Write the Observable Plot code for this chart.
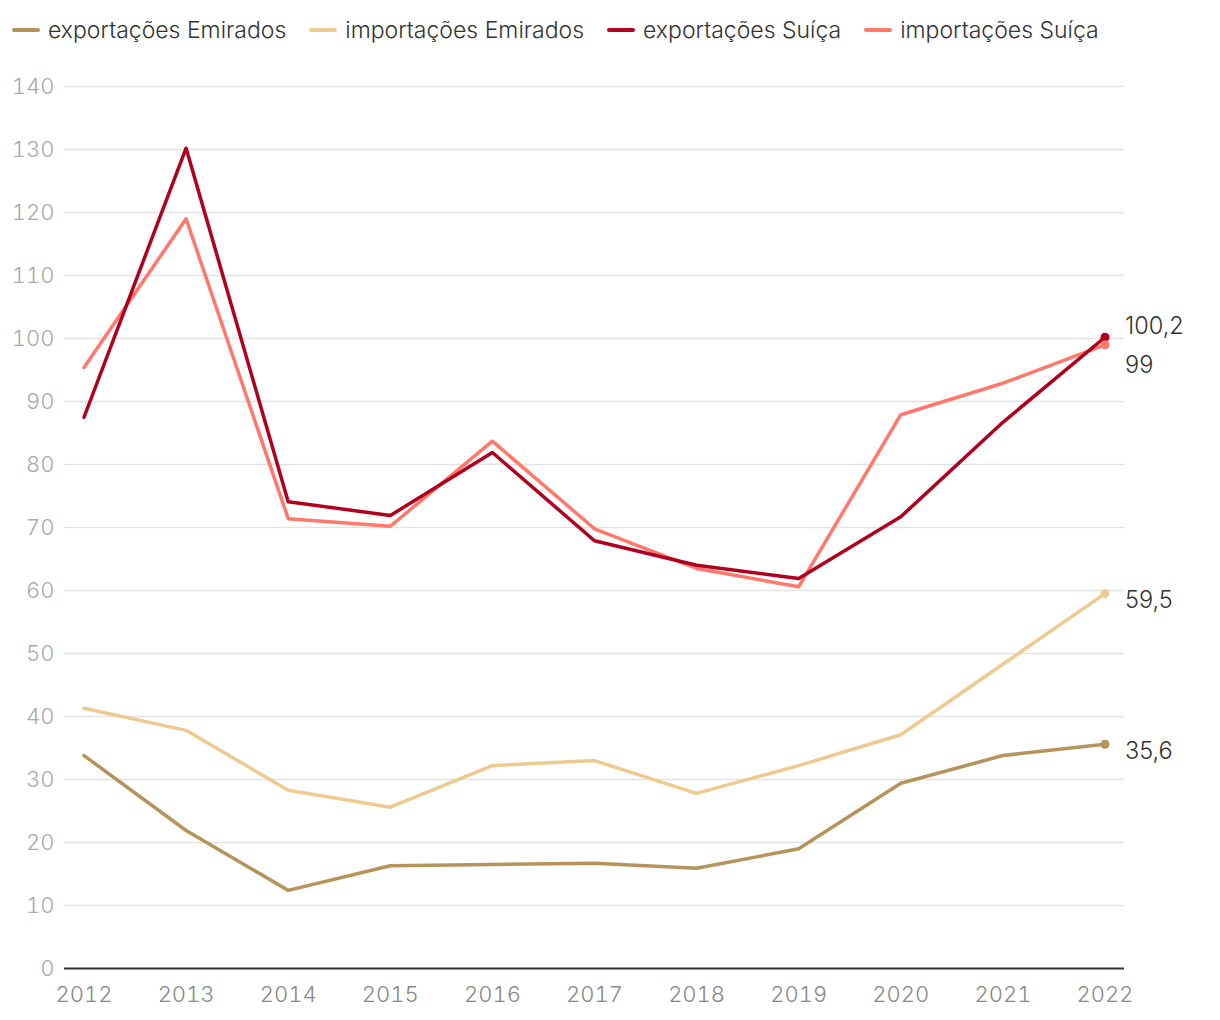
<!DOCTYPE html>
<html>
<head>
<meta charset="utf-8">
<script src="https://cdn.jsdelivr.net/npm/d3@7"></script>
<script src="https://cdn.jsdelivr.net/npm/@observablehq/plot@0.6"></script>
<style>
  html, body { margin: 0; padding: 0; background: #fff; }
  body { width: 1220px; height: 1020px; overflow: hidden; font-family: Inter, Roboto, "Noto Sans", sans-serif; font-weight: 300; }
  #legend { height: 60px; display: flex; align-items: center; padding-left: 12px; gap: 23px; font-size: 23px; color: #333; }
  .item { display: flex; align-items: center; }
  .sw { width: 28px; height: 4px; border-radius: 2px; margin-right: 8px; }
  svg { display: block; }
</style>
</head>
<body>
<div id="legend"></div>
<div id="chart"></div>
<script>
const years = [2012, 2013, 2014, 2015, 2016, 2017, 2018, 2019, 2020, 2021, 2022];
const seriesLabels = ["exportações Emirados", "importações Emirados", "exportações Suíça", "importações Suíça"];
const colors = ["#b5935a", "#edca8f", "#b0001e", "#ff786b"];
const exportEmirados = [33.8, 21.9, 12.4, 16.3, 16.5, 16.7, 15.9, 19.0, 29.4, 33.8, 35.6];
const importEmirados = [41.3, 37.8, 28.3, 25.6, 32.2, 33.0, 27.8, 32.2, 37.1, 48.3, 59.5];
const exportSuica = [87.5, 130.2, 74.1, 71.9, 81.9, 67.9, 64.0, 61.9, 71.7, 86.7, 100.2];
const importSuica = [95.4, 119.0, 71.4, 70.2, 83.7, 69.8, 63.5, 60.6, 87.9, 92.9, 99.0];
const endLabels = ["35,6", "59,5", "100,2", "99"];
const endDy = [7, 7, -11, 21];
const yTicks = [0, 10, 20, 30, 40, 50, 60, 70, 80, 90, 100, 110, 120, 130, 140];

const values = [exportEmirados, importEmirados, exportSuica, importSuica];
const data = [];
values.forEach((arr, i) => arr.forEach((v, j) => data.push({year: years[j], value: v, series: seriesLabels[i], idx: i})));
const last = values.map((arr, i) => ({year: years[years.length - 1], value: arr[arr.length - 1], series: seriesLabels[i], label: endLabels[i], dy: endDy[i], idx: i}));

const legend = document.getElementById("legend");
seriesLabels.forEach((s, i) => {
  const d = document.createElement("div");
  d.className = "item";
  d.innerHTML = `<span class="sw" style="background:${colors[i]}"></span><span>${s}</span>`;
  legend.appendChild(d);
});

const chart = Plot.plot({
  width: 1220,
  height: 960,
  marginLeft: 64,
  marginRight: 96,
  marginTop: 26,
  marginBottom: 52,
  style: {fontFamily: "Inter, Roboto, sans-serif", fontWeight: 300, fontSize: "22px", background: "#fff"},
  x: {domain: [2012, 2022], inset: 19.5, ticks: years, tickFormat: d => String(d), label: null},
  y: {domain: [0, 140], ticks: yTicks, label: null},
  marks: [
    Plot.ruleY(yTicks.filter(t => t > 0), {stroke: "#e3e3e3", strokeWidth: 1.5}),
    Plot.axisY({ticks: yTicks, tickSize: 0, tickPadding: 10, fill: "#aaa", fontSize: 22, label: null}),
    Plot.axisX({ticks: years, tickSize: 0, tickPadding: 18, fill: "#888", fontSize: 22, tickFormat: d => String(d), label: null}),
    Plot.ruleY([0], {stroke: "#333", strokeWidth: 2}),
    ...[0, 1, 3, 2].map(i => Plot.line(data.filter(d => d.idx === i), {x: "year", y: "value", stroke: colors[i], strokeWidth: 3.5})),
    Plot.dot(last, {x: "year", y: "value", fill: d => colors[d.idx], r: 4.5}),
    ...last.map(d => Plot.text([d], {x: "year", y: "value", text: "label", dx: 20, dy: d.dy, textAnchor: "start", fill: "#333", fontSize: 23.5}))
  ]
});
document.getElementById("chart").appendChild(chart);
</script>
</body>
</html>
